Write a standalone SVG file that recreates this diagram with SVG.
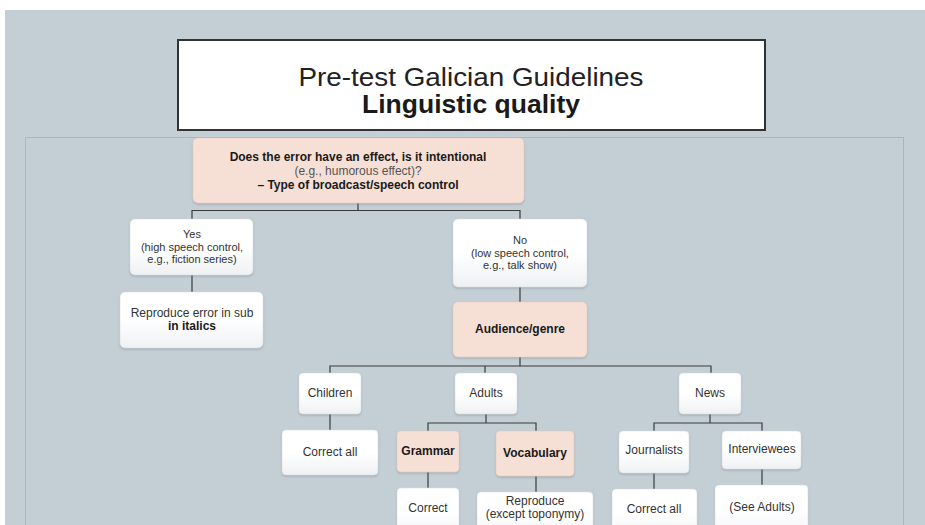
<svg xmlns="http://www.w3.org/2000/svg" width="925" height="525" viewBox="0 0 925 525">
<style>
.t{font-family:"Liberation Sans",Arial,sans-serif;font-size:12px;fill:#333;text-anchor:middle}
.s{font-size:11px}
.b{font-weight:bold;fill:#1a1a1a}
.w{fill:url(#wg);stroke:#d6dde1;stroke-width:0.6;filter:url(#sh)}
.p{fill:#f6dfd4;stroke:#e8cfc3;stroke-width:0.6;filter:url(#sh)}
.c{fill:none;stroke:#3a3a3a;stroke-width:1.2}
</style>
<defs>
<linearGradient id="wg" x1="0" y1="0" x2="0" y2="1"><stop offset="0.5" stop-color="#ffffff"/><stop offset="1" stop-color="#eef1f3"/></linearGradient>
<filter id="sh" x="-10%" y="-10%" width="120%" height="130%"><feDropShadow dx="0" dy="1.2" stdDeviation="1" flood-color="#6d7a82" flood-opacity="0.45"/></filter>
</defs>
<rect x="0" y="0" width="925" height="525" fill="#ffffff"/>
<rect x="5" y="10" width="920" height="515" fill="#c4cfd5"/>
<rect x="25.5" y="137.5" width="878" height="400" fill="none" stroke="#a9b7bf" stroke-width="1"/>
<g id="title">
<rect x="178" y="40" width="587" height="90" fill="#ffffff" stroke="#333" stroke-width="2"/>
<text x="471" y="86" textLength="345" lengthAdjust="spacingAndGlyphs" style="font-family:'Liberation Sans',sans-serif;font-size:25px;fill:#222;text-anchor:middle">Pre-test Galician Guidelines</text>
<text x="471" y="113" textLength="218" lengthAdjust="spacingAndGlyphs" style="font-family:'Liberation Sans',sans-serif;font-size:25px;font-weight:bold;fill:#1a1a1a;text-anchor:middle">Linguistic quality</text>
</g>
<g id="connectors">
<path class="c" d="M358 203V210.5M192 219V210.5H520V219"/>
<path class="c" d="M192 275V292"/>
<path class="c" d="M520 287V302"/>
<path class="c" d="M520 357V366M330 373V366H711V373M485 366V373"/>
<path class="c" d="M330 414V430"/>
<path class="c" d="M486 414V423M428 431V423H536V431"/>
<path class="c" d="M428 472V488"/>
<path class="c" d="M536 476V492"/>
<path class="c" d="M710 414V423M654 431V423H762V431"/>
<path class="c" d="M654 473V489"/>
<path class="c" d="M762 469V485"/>
</g>
<g id="question">
<rect class="p" x="193" y="138" width="331" height="65" rx="5"/>
<text class="t b" x="358" y="161">Does the error have an effect, is it intentional</text>
<text class="t" x="358" y="175" style="fill:#555">(e.g., humorous effect)?</text>
<text class="t b" x="358" y="189">– Type of broadcast/speech control</text>
</g>
<g id="yes">
<rect class="w" x="130" y="219" width="123" height="56" rx="5"/>
<text class="t s" x="192" y="238">Yes</text>
<text class="t s" x="192" y="250.5">(high speech control,</text>
<text class="t s" x="192" y="263">e.g., fiction series)</text>
</g>
<g id="reproduce-italics">
<rect class="w" x="120" y="292" width="143" height="56" rx="5"/>
<text class="t" x="192" y="317">Reproduce error in sub</text>
<text class="t b" x="192" y="330">in italics</text>
</g>
<g id="no">
<rect class="w" x="453" y="219" width="134" height="68" rx="5"/>
<text class="t s" x="520" y="244">No</text>
<text class="t s" x="520" y="256.5">(low speech control,</text>
<text class="t s" x="520" y="269">e.g., talk show)</text>
</g>
<g id="audience">
<rect class="p" x="453" y="302" width="134" height="55" rx="5"/>
<text class="t b" x="520" y="333">Audience/genre</text>
</g>
<g id="children">
<rect class="w" x="299" y="373" width="62" height="41" rx="4"/>
<text class="t" x="330" y="397">Children</text>
</g>
<g id="adults">
<rect class="w" x="455" y="373" width="62" height="41" rx="4"/>
<text class="t" x="486" y="397">Adults</text>
</g>
<g id="news">
<rect class="w" x="679" y="373" width="62" height="41" rx="4"/>
<text class="t" x="710" y="397">News</text>
</g>
<g id="children-correct-all">
<rect class="w" x="282" y="430" width="96" height="45" rx="4"/>
<text class="t" x="330" y="456">Correct all</text>
</g>
<g id="grammar">
<rect class="p" x="397" y="431" width="62" height="41" rx="4"/>
<text class="t b" x="428" y="455">Grammar</text>
</g>
<g id="vocabulary">
<rect class="p" x="496" y="431" width="78" height="45" rx="4"/>
<text class="t b" x="535" y="457">Vocabulary</text>
</g>
<g id="correct">
<rect class="w" x="397" y="488" width="62" height="50" rx="4"/>
<text class="t" x="428" y="512">Correct</text>
</g>
<g id="reproduce-toponymy">
<rect class="w" x="477" y="492" width="116" height="46" rx="4"/>
<text class="t" x="535" y="505">Reproduce</text>
<text class="t" x="535" y="518">(except toponymy)</text>
</g>
<g id="journalists">
<rect class="w" x="619" y="431" width="70" height="42" rx="4"/>
<text class="t" x="654" y="454">Journalists</text>
</g>
<g id="interviewees">
<rect class="w" x="722" y="431" width="79" height="38" rx="4"/>
<text class="t" x="762" y="453">Interviewees</text>
</g>
<g id="journalists-correct-all">
<rect class="w" x="612" y="489" width="85" height="49" rx="4"/>
<text class="t" x="654" y="513">Correct all</text>
</g>
<g id="see-adults">
<rect class="w" x="715" y="485" width="93" height="53" rx="4"/>
<text class="t" x="762" y="511">(See Adults)</text>
</g>
</svg>
